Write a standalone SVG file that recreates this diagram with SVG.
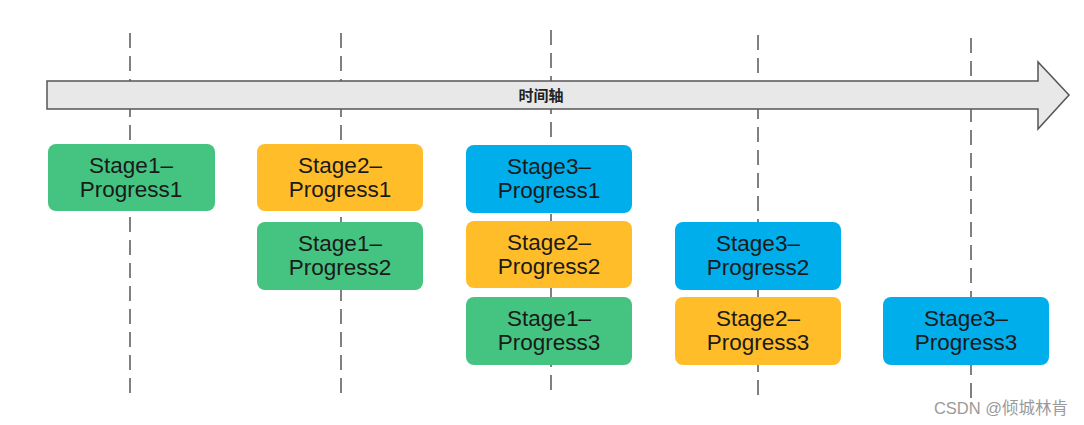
<svg xmlns="http://www.w3.org/2000/svg" width="1084" height="425" viewBox="0 0 1084 425">
<style>
.grid line{stroke:#808080;stroke-width:2;stroke-dasharray:15 8;fill:none}
.box{stroke:none}
.g{fill:#45C380}
.y{fill:#FFBD2A}
.b{fill:#00AEEC}
.t{font-family:"Liberation Sans",Arial,sans-serif;font-size:22.5px;fill:#1a1a1a;text-anchor:middle}
</style>
<rect width="1084" height="425" fill="#ffffff"/>
<g id="connectors" class="grid">
<line x1="130" y1="33" x2="130" y2="398"/>
<line x1="341" y1="33" x2="341" y2="398"/>
<line x1="551" y1="30" x2="551" y2="395"/>
<line x1="758" y1="35" x2="758" y2="398"/>
<line x1="971" y1="38" x2="971" y2="398"/>
</g>
<g id="timeline">
<polygon points="47,81 1038,81 1038,62 1069,95 1038,129 1038,109 47,109" fill="#E8E8E8" stroke="#555555" stroke-width="1.5"/>
<text x="541" y="101" font-family="'Noto Sans CJK SC',sans-serif" font-size="15" font-weight="bold" fill="#222" text-anchor="middle">时间轴</text>
</g>
<g id="s1p1"><rect class="box g" x="48" y="144" width="167" height="67" rx="8"/><text class="t" x="131" y="173">Stage1–</text><text class="t" x="131" y="197">Progress1</text></g>
<g id="s2p1"><rect class="box y" x="257" y="144" width="166" height="67" rx="8"/><text class="t" x="340" y="173">Stage2–</text><text class="t" x="340" y="197">Progress1</text></g>
<g id="s1p2"><rect class="box g" x="257" y="222" width="166" height="68" rx="8"/><text class="t" x="340" y="251">Stage1–</text><text class="t" x="340" y="275">Progress2</text></g>
<g id="s3p1"><rect class="box b" x="466" y="145" width="166" height="68" rx="8"/><text class="t" x="549" y="174">Stage3–</text><text class="t" x="549" y="198">Progress1</text></g>
<g id="s2p2"><rect class="box y" x="466" y="221" width="166" height="67" rx="8"/><text class="t" x="549" y="250">Stage2–</text><text class="t" x="549" y="274">Progress2</text></g>
<g id="s1p3"><rect class="box g" x="466" y="297" width="166" height="68" rx="8"/><text class="t" x="549" y="326">Stage1–</text><text class="t" x="549" y="350">Progress3</text></g>
<g id="s3p2"><rect class="box b" x="675" y="222" width="166" height="68" rx="8"/><text class="t" x="758" y="251">Stage3–</text><text class="t" x="758" y="275">Progress2</text></g>
<g id="s2p3"><rect class="box y" x="675" y="297" width="166" height="68" rx="8"/><text class="t" x="758" y="326">Stage2–</text><text class="t" x="758" y="350">Progress3</text></g>
<g id="s3p3"><rect class="box b" x="883" y="297" width="166" height="68" rx="8"/><text class="t" x="966" y="326">Stage3–</text><text class="t" x="966" y="350">Progress3</text></g>
<text x="1068" y="414" font-family="'Liberation Sans','Noto Sans CJK SC',sans-serif" font-size="16.5" fill="#9a9a9a" text-anchor="end">CSDN @倾城林肯</text>
</svg>
